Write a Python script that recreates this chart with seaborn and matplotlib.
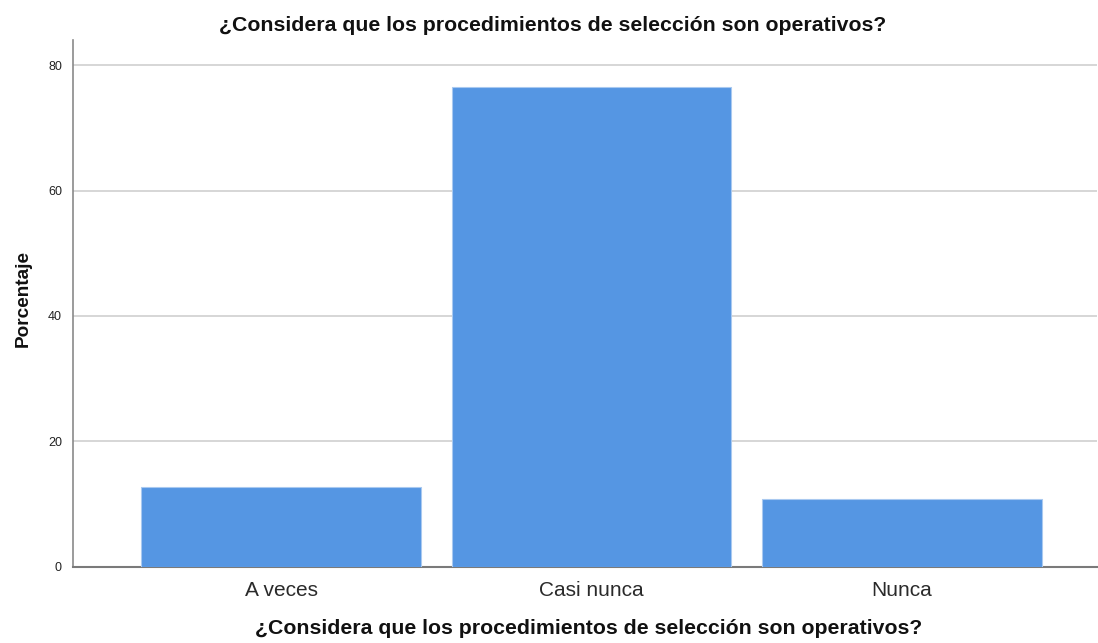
import matplotlib
matplotlib.use('Agg')
import matplotlib.pyplot as plt
import seaborn as sns
import pandas as pd

categories = ['A veces', 'Casi nunca', 'Nunca']
percentages = [12.7, 76.5, 10.8]
question = '¿Considera que los procedimientos de selección son operativos?'

sns.set_style('white')
plt.rcParams['font.family'] = ['Liberation Sans', 'DejaVu Sans']

df = pd.DataFrame({'cat': categories, 'pct': percentages})

fig = plt.figure(figsize=(10.98, 6.43), dpi=100)
ax = fig.add_axes([0.0665, 0.1187, 0.933, 0.819])

sns.barplot(data=df, x='cat', y='pct', color='#5596e3', saturation=1,
            width=0.9, edgecolor='#a9c9f0', linewidth=0.8, ax=ax, zorder=3)

ax.set_xlim(-0.67, 2.63)
ax.set_ylim(0, 84)
ax.set_yticks([0, 20, 40, 60, 80])
ax.yaxis.grid(True, color='#cfcfcf', linewidth=1.2, zorder=0)
ax.tick_params(axis='y', labelsize=9, length=0, pad=8, labelcolor='#222222')
ax.tick_params(axis='x', labelsize=15, length=0, pad=10.5, labelcolor='#2a2a2a')

for s in ['top', 'right']:
    ax.spines[s].set_visible(False)
ax.spines['left'].set_color('#8a8a8a')
ax.spines['bottom'].set_color('#7a7a7a')
ax.spines['left'].set_linewidth(1.2)
ax.spines['bottom'].set_linewidth(1.5)

ax.set_xlabel(question, fontsize=15.3, fontweight='bold', color='#111111')
ax.xaxis.set_label_coords(0.503, -0.099)
ax.set_ylabel('Porcentaje', fontsize=13.7, fontweight='bold', color='#111111')
ax.yaxis.set_label_coords(-0.040, 0.510)
fig.suptitle(question, fontsize=15.3, fontweight='bold', x=0.503, y=0.9755,
             color='#111111')

fig.savefig('out.png', dpi=100)
